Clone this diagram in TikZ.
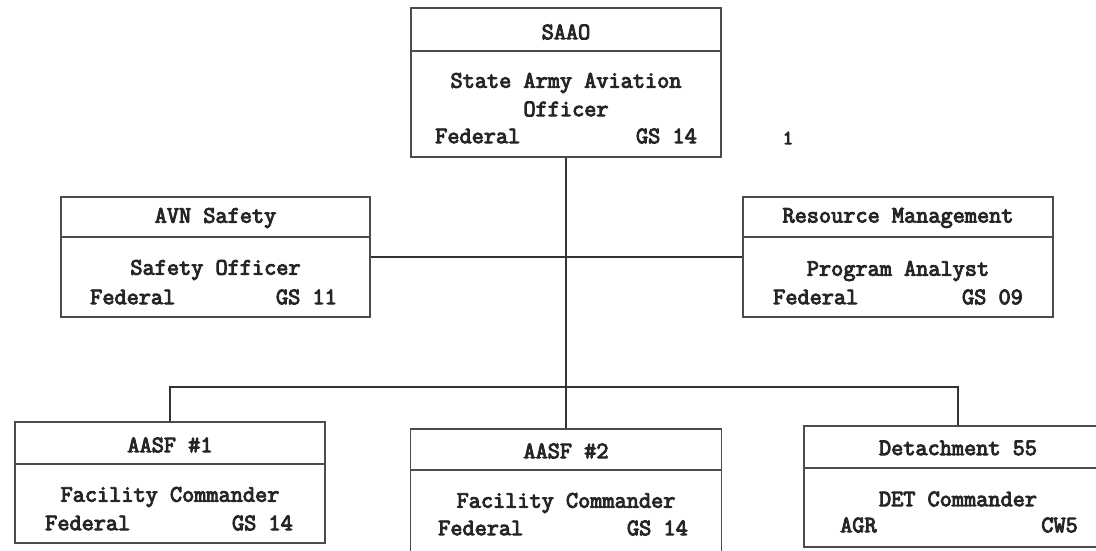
\documentclass[tikz,border=0pt]{standalone}
\usepackage{fontspec}
\newfontfamily\cour{Latin Modern Mono}[FakeBold=4]
\tikzset{
  box/.style={draw=black!70, line width=1.6pt, rectangle, inner sep=0pt},
  divline/.style={draw=black!70, line width=1.6pt},
  conn/.style={draw=black!80, line width=1.6pt},
  txt/.style={inner sep=0pt, text=black!85, font=\cour\fontsize{23.6}{26}\selectfont},
  lt/.style={txt, anchor=west},
  rt/.style={txt, anchor=east},
}
\begin{document}
\begin{tikzpicture}[x=1pt,y=-1pt]
\useasboundingbox (0,0) rectangle (1096,550);
\clip (0,0) rectangle (1096,550);
\fill[white] (0,0) rectangle (1096,550);
% SAAO
\node[box, minimum width=310pt, minimum height=149pt] (saao) at (566,82.5) {};
\draw[divline] (411,51) -- (721,51);
\node[txt] (saaoh) at (566,32) {SAAO};
\node[txt] (saao1) at (566,83) {State Army Aviation};
\node[txt] (saao2) at (566,109) {Officer};
\node[lt] (saao3) at (435,136) {Federal};
\node[rt] (saao4) at (697,136) {GS 14};
\node[inner sep=0pt, text=black!85, font=\cour\fontsize{20}{22}\selectfont] (one) at (788,138) {1};
% AVN
\node[box, minimum width=309pt, minimum height=120pt] (avn) at (215.5,257) {};
\draw[divline] (61,237) -- (370,237);
\node[txt] (avnh) at (215.5,218) {AVN Safety};
\node[txt] (avn1) at (215.5,270) {Safety Officer};
\node[lt] (avn2) at (90,297) {Federal};
\node[rt] (avn3) at (337,297) {GS 11};
% RM
\node[box, minimum width=310pt, minimum height=120pt] (rm) at (898,257) {};
\draw[divline] (743,237) -- (1053,237);
\node[txt] (rmh) at (898,218) {Resource Management};
\node[txt] (rm1) at (898,271) {Program Analyst};
\node[lt] (rm2) at (773,297) {Federal};
\node[rt] (rm3) at (1023,297) {GS 09};
% AASF1
\node[box, minimum width=310pt, minimum height=121pt] (a1) at (170,482.5) {};
\draw[divline] (15,464) -- (325,464);
\node[txt] (a1h) at (170,445) {AASF \#1};
\node[txt] (a11) at (170,497) {Facility Commander};
\node[lt] (a12) at (45,523) {Federal};
\node[rt] (a13) at (293,523) {GS 14};
% AASF2
\node[box, minimum width=311pt, minimum height=136pt] (a2) at (566,497) {};
\draw[divline] (410.5,470) -- (721.5,470);
\node[txt] (a2h) at (566,451) {AASF \#2};
\node[txt] (a21) at (566,503) {Facility Commander};
\node[lt] (a22) at (438,528) {Federal};
\node[rt] (a23) at (688,528) {GS 14};
% DET
\node[box, minimum width=308pt, minimum height=121pt] (det) at (958,486.5) {};
\draw[divline] (804,468) -- (1112,468);
\node[txt] (deth) at (958,448) {Detachment 55};
\node[txt] (det1) at (958,499) {DET Commander};
\node[lt] (det2) at (840,525) {AGR};
\node[rt] (det3) at (1078,525) {CW5};
% connectors
\coordinate (bus) at (566,387);
\draw[conn] (saao.south) -- (a2.north);
\draw[conn] (avn.east) -- (rm.west);
\draw[conn] (a1.north) -- (a1.north |- bus) -- (det.north |- bus) -- (det.north);
\end{tikzpicture}
\end{document}
